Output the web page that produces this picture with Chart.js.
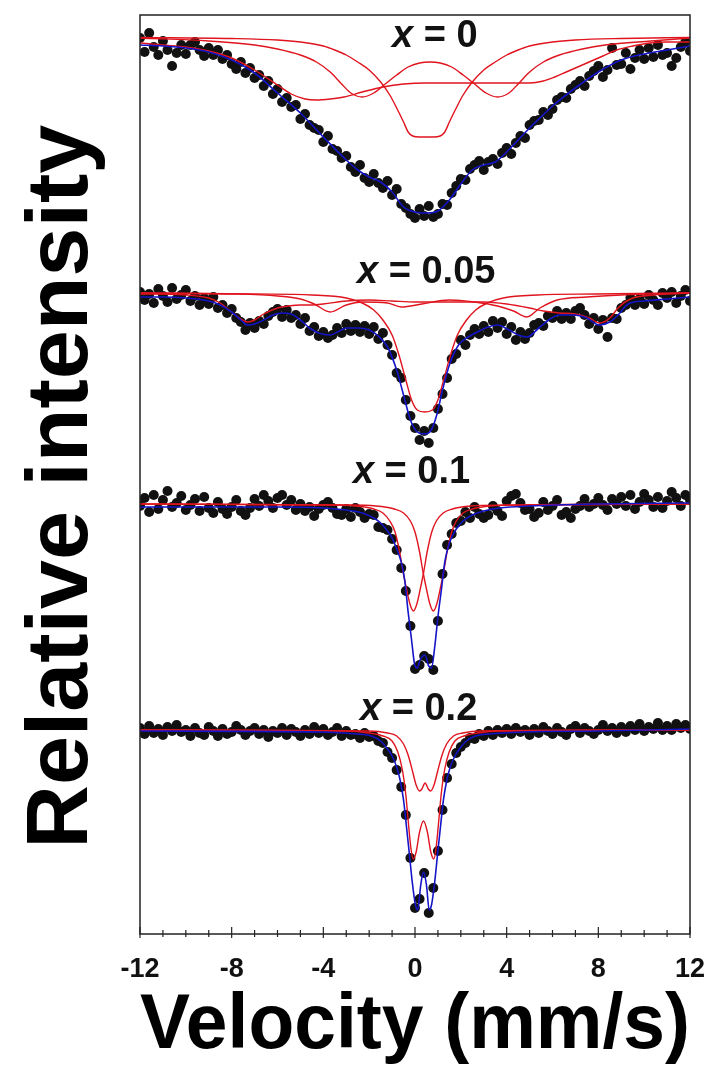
<!DOCTYPE html>
<html>
<head>
<meta charset="utf-8">
<script src="https://cdn.jsdelivr.net/npm/chart.js@4.4.1/dist/chart.umd.min.js"></script>
<style>
  html, body { margin: 0; padding: 0; background: #fff; }
  .wrap { position: relative; width: 709px; height: 1077px; }
</style>
</head>
<body>
<div class="wrap"><canvas id="spectra"></canvas></div>
<script>
// Mössbauer spectra, stacked by composition (relative intensity in arbitrary units)

const velocity = [
  -12, -11.8, -11.6, -11.4, -11.2, -11, -10.8, -10.6, -10.4, -10.2,
  -10, -9.8, -9.6, -9.4, -9.2, -9, -8.8, -8.6, -8.4, -8.2,
  -8, -7.8, -7.6, -7.4, -7.2, -7, -6.8, -6.6, -6.4, -6.2,
  -6, -5.8, -5.6, -5.4, -5.2, -5, -4.8, -4.6, -4.4, -4.2,
  -4, -3.8, -3.6, -3.4, -3.2, -3, -2.8, -2.6, -2.4, -2.2,
  -2, -1.8, -1.6, -1.4, -1.2, -1, -0.8, -0.6, -0.4, -0.2,
  0, 0.2, 0.4, 0.6, 0.8, 1, 1.2, 1.4, 1.6, 1.8,
  2, 2.2, 2.4, 2.6, 2.8, 3, 3.2, 3.4, 3.6, 3.8,
  4, 4.2, 4.4, 4.6, 4.8, 5, 5.2, 5.4, 5.6, 5.8,
  6, 6.2, 6.4, 6.6, 6.8, 7, 7.2, 7.4, 7.6, 7.8,
  8, 8.2, 8.4, 8.6, 8.8, 9, 9.2, 9.4, 9.6, 9.8,
  10, 10.2, 10.4, 10.6, 10.8, 11, 11.2, 11.4, 11.6, 11.8,
  12
]

const compositions = ['0', '0.05', '0.1', '0.2']

// measured points, one value per velocity channel
const counts0 = [
  89.6, 88.2, 90.1, 88.7, 87.9, 89.3, 88.4, 86.8, 88.1, 88.9,
  88.0, 88.9, 89.2, 88.4, 87.8, 88.6, 87.9, 88.4, 87.5, 87.9,
  87.0, 86.5, 87.2, 86.1, 86.6, 85.6, 85.9, 84.8, 85.3, 84.0,
  84.5, 83.2, 83.6, 82.7, 82.9, 81.5, 82.0, 80.9, 80.6, 80.4,
  79.2, 79.8, 78.5, 78.3, 77.6, 77.8, 76.7, 76.2, 76.9, 75.6,
  75.2, 76.0, 75.1, 74.6, 75.3, 73.9, 74.5, 73.0, 72.6, 72.0,
  71.6, 72.5, 71.8, 72.8, 71.7, 72.0, 73.0, 72.9, 74.1, 74.8,
  75.5, 75.4, 76.5, 76.9, 77.3, 76.4, 77.2, 77.5, 77.0, 78.1,
  78.6, 78.0, 79.1, 79.8, 79.6, 80.9, 81.3, 81.4, 82.2, 81.9,
  82.5, 83.4, 83.7, 83.6, 84.5, 84.9, 85.3, 84.8, 85.8, 86.3,
  86.8, 85.7, 86.4, 88.6, 86.9, 87.0, 88.1, 86.5, 87.6, 88.4,
  87.5, 88.6, 87.7, 88.9, 87.9, 88.1, 86.8, 87.6, 88.7, 89.2,
  88.3
]
const counts005 = [
  64.2, 63.4, 64.0, 63.1, 64.5, 63.8, 63.2, 64.6, 63.5, 63.9,
  64.4, 63.3, 63.8, 62.9, 63.6, 63.0, 63.7, 62.6, 62.9, 62.1,
  62.5, 61.6, 61.2, 60.4, 61.1, 60.6, 61.3, 61.0, 61.8, 62.2,
  62.5, 61.7, 62.4, 61.6, 61.9, 61.0, 61.6, 60.3, 60.7, 59.8,
  60.2, 59.6, 59.9, 60.6, 60.1, 61.0, 60.3, 60.9, 60.2, 60.8,
  60.0, 60.7, 59.5, 60.1, 58.9, 57.9, 56.1, 55.6, 53.4, 51.8,
  50.6, 49.4, 50.3, 49.1, 50.6, 52.5, 54.0, 55.6, 57.5, 58.0,
  59.4, 58.9, 59.9, 60.5, 60.0, 60.8, 60.2, 61.3, 60.6, 61.2,
  60.0, 60.7, 59.4, 60.2, 59.5, 60.1, 60.9, 61.1, 60.8, 61.8,
  61.6, 62.3, 61.5, 62.1, 61.5, 62.3, 62.6, 61.9, 61.0, 61.6,
  60.5, 61.4, 59.7, 61.6, 61.5, 62.6, 62.9, 63.6, 62.9, 63.5,
  63.0, 63.9, 63.4, 62.9, 64.1, 63.6, 64.2, 63.1, 63.8, 64.4,
  63.3
]
const counts01 = [
  42.8, 43.6, 42.2, 43.9, 42.5, 43.4, 44.3, 42.7, 43.1, 43.8,
  42.4, 42.9, 43.5, 42.3, 43.7, 42.6, 42.1, 43.2, 42.5, 42.0,
  42.7, 43.4, 42.3, 41.9, 42.6, 43.5, 42.8, 43.9, 43.3, 42.6,
  43.6, 43.9, 42.9, 43.4, 42.4, 43.0, 42.3, 42.7, 41.8, 42.5,
  42.9, 43.2, 42.6, 42.0, 41.9, 42.5, 41.7, 42.6, 42.2, 41.6,
  42.0, 41.9, 40.7, 40.6, 40.4, 39.5, 38.4, 36.6, 34.3, 30.8,
  26.5, 26.9, 27.8, 27.5, 26.4, 31.3, 36.0, 38.9, 40.0, 41.1,
  41.3, 42.2, 41.6, 42.7, 42.0, 41.6, 41.9, 42.8, 42.3, 41.8,
  43.3, 43.8, 44.0, 43.1, 42.4, 42.5, 41.7, 42.1, 43.2, 42.4,
  42.8, 43.4, 41.9, 42.2, 41.6, 42.5, 42.8, 43.5, 42.7, 43.0,
  43.6, 42.9, 42.4, 43.5, 43.0, 43.7, 42.8, 43.9, 42.5, 43.2,
  44.0, 43.4, 42.7, 43.7, 42.6, 43.3, 44.2, 43.6, 42.8, 43.9,
  43.4
]
const counts02 = [
  20.6, 20.0, 20.8, 20.1, 20.5, 19.9, 20.7, 20.3, 20.9, 20.2,
  20.4, 19.8, 20.6, 20.1, 19.9, 20.7, 20.3, 19.8, 20.5, 20.0,
  20.2, 20.8, 20.4, 19.9, 20.3, 20.6, 20.0, 20.4, 19.7, 20.3,
  20.1, 20.6, 19.9, 20.5, 20.2, 19.8, 20.4, 20.0, 20.7, 20.1,
  20.5, 19.9, 20.2, 20.6, 19.8, 20.3, 19.9, 20.0, 19.6, 20.1,
  19.7, 19.8, 19.3, 19.1, 18.2, 17.6, 16.4, 14.7, 11.9, 7.6,
  2.6, 3.5, 6.1, 2.1, 4.6, 8.3, 12.4, 15.6, 17.0, 18.1,
  18.7, 19.1, 19.6, 19.5, 20.0, 19.8, 20.3, 19.9, 20.4, 20.1,
  20.5, 20.0, 20.6, 20.2, 20.4, 19.9, 20.5, 20.1, 20.7, 20.3,
  20.0, 20.6, 20.2, 19.9, 20.5, 20.8, 20.1, 20.6, 20.3, 20.0,
  20.4, 20.9, 20.3, 20.6, 20.1, 20.7, 20.2, 20.8, 20.4, 21.0,
  20.3, 20.7, 20.5, 21.1, 20.4, 20.8, 20.4, 21.0, 20.6, 20.9,
  20.5
]

// fitted curves as [velocity, intensity] pairs
const fit0Total = [
  [-12, 88.9], [-11, 88.8], [-10, 88.6], [-9, 88.2], [-8, 87.4], [-7, 86.1], [-6, 84.1],
  [-5, 82.1], [-4, 79.7], [-3, 77.4], [-2.5, 76.4], [-2, 75.7], [-1.5, 75.2], [-1, 74.2],
  [-0.5, 72.7], [0, 72.2], [0.5, 72.1], [1, 72.3], [1.5, 73.4], [2, 75.0], [2.5, 76.4],
  [3, 76.9], [3.5, 77.2], [4, 78.2], [4.5, 79.4], [5, 80.6], [5.5, 81.7], [6, 82.8],
  [7, 84.6], [8, 86.2], [9, 87.4], [10, 88.0], [11, 88.4], [12, 88.8]
]
const fit0Center = [
  [-12, 89.65], [-8, 89.55], [-6, 89.4], [-5, 89.2], [-4, 88.8], [-3.5, 88.4], [-3, 87.9],
  [-2.5, 87.2], [-2, 86.4], [-1.5, 85.2], [-1.1, 83.9], [-0.8, 82.6], [-0.5, 81.2],
  [-0.3, 80.2], [-0.1, 79.8], [0.2, 79.7], [0.5, 79.7], [0.8, 79.7], [1.1, 79.8], [1.3, 80.2],
  [1.5, 81.2], [1.8, 82.6], [2.1, 83.9], [2.5, 85.2], [3, 86.4], [3.5, 87.2], [4, 87.9],
  [4.5, 88.4], [5, 88.8], [6, 89.2], [7, 89.4], [9, 89.55], [12, 89.65]
]
const fit0Doublet = [
  [-12, 89.6], [-9, 89.3], [-7, 88.9], [-6, 88.5], [-5, 87.9], [-4.3, 87.2], [-3.7, 86.2],
  [-3.2, 85.0], [-2.8, 84.1], [-2.3, 83.7], [-1.8, 84.1], [-1.3, 85.0], [-0.8, 85.9],
  [-0.3, 86.7], [0.2, 87.1], [0.65, 87.2], [1.1, 87.1], [1.6, 86.7], [2.1, 85.9], [2.6, 85.0],
  [3.1, 84.1], [3.6, 83.7], [4.1, 84.1], [4.5, 85.0], [5.0, 86.2], [5.6, 87.2], [6.3, 87.9],
  [7.3, 88.5], [8.3, 88.9], [10.3, 89.3], [12, 89.6]
]
const fit0Broad = [
  [-12, 89.1], [-11, 88.9], [-10, 88.7], [-9, 88.3], [-8, 87.6], [-7, 86.4], [-6, 84.9],
  [-5.4, 84.0], [-4.8, 83.5], [-4.3, 83.4], [-3.7, 83.5], [-3.1, 83.7], [-2.3, 84.2],
  [-1.4, 84.7], [-0.5, 85.0], [0.5, 85.1], [2, 85.1], [4, 85.1], [5, 85.1], [5.6, 85.3],
  [6.1, 85.7], [6.6, 86.2], [7.5, 87.1], [8.2, 87.8], [8.8, 88.4], [9.5, 88.8],
  [10.25, 89.1], [11, 89.2], [12, 89.2]
]

const fit005Total = [
  [-12, 63.7], [-11, 63.7], [-10, 63.6], [-9, 63.3], [-8.5, 62.9], [-8, 62.2], [-7.6, 61.4],
  [-7.3, 60.9], [-7.0, 61.0], [-6.6, 61.4], [-6.2, 61.9], [-5.8, 62.1], [-5.4, 62.0],
  [-5.0, 61.4], [-4.6, 60.6], [-4.2, 60.1], [-3.7, 59.9], [-3.3, 60.3], [-3.0, 60.6],
  [-2.5, 60.6], [-2.0, 60.4], [-1.6, 59.8], [-1.2, 58.7], [-0.8, 56.4], [-0.5, 53.9],
  [-0.2, 51.4], [0.1, 50.2], [0.4, 50.0], [0.65, 50.2], [0.95, 51.9], [1.2, 54.4],
  [1.5, 56.9], [1.9, 58.9], [2.4, 59.8], [2.8, 60.3], [3.2, 60.7], [3.6, 60.9], [4.1, 60.4],
  [4.5, 59.9], [4.9, 59.7], [5.4, 60.6], [5.9, 61.5], [6.3, 61.9], [6.9, 61.9], [7.5, 61.6],
  [8.05, 60.9], [8.5, 61.2], [8.9, 62.0], [9.3, 63.0], [10, 63.3], [11, 63.5], [12, 63.7]
]
const fit005Singlet = [
  [-12, 64.1], [-7, 64.0], [-4.5, 63.9], [-3, 63.6], [-2.3, 63.1], [-1.8, 62.4], [-1.4, 61.4],
  [-1.0, 59.9], [-0.7, 57.9], [-0.4, 55.4], [-0.15, 53.4], [0.1, 52.4], [0.43, 52.2],
  [0.76, 52.4], [1.0, 53.4], [1.25, 55.4], [1.55, 57.9], [1.85, 59.9], [2.25, 61.4],
  [2.65, 62.4], [3.15, 63.1], [3.85, 63.6], [5.35, 63.9], [7.85, 64.0], [12, 64.1]
]
const fit005SextetA = [
  [-12, 64.0], [-10, 63.9], [-9, 63.6], [-8.5, 63.1], [-8.0, 62.2], [-7.6, 61.5], [-7.3, 61.2],
  [-7.0, 61.4], [-6.6, 62.0], [-6.0, 62.6], [-5.5, 62.8], [-5.0, 62.9], [-4.5, 62.9],
  [-4.0, 63.0], [-3.0, 63.3], [-2.0, 63.4], [-1.0, 63.3], [0.0, 63.2], [1.0, 63.2], [2.0, 63.2],
  [3.0, 63.2], [4.0, 63.0], [5.0, 62.6], [5.6, 62.3], [6.3, 62.1], [7.0, 62.0], [7.6, 61.6],
  [8.07, 61.1], [8.5, 61.6], [8.9, 62.7], [9.4, 63.5], [10.4, 63.9], [12, 64.1]
]
const fit005SextetB = [
  [-12, 64.1], [-8, 64.0], [-6, 63.8], [-5, 63.5], [-4.4, 63.0], [-3.7, 62.2], [-3.0, 62.9],
  [-2.3, 63.2], [-1.2, 63.1], [-0.6, 62.7], [0.3, 63.0], [1.5, 63.4], [2.6, 63.2], [3.6, 62.8],
  [4.3, 62.3], [4.88, 61.7], [5.45, 62.6], [6.2, 63.4], [7.5, 63.7], [9, 63.9], [12, 64.1]
]

const fit01Total = [
  [-12, 42.7], [-6, 42.7], [-4, 42.6], [-3, 42.4], [-2.3, 42.1], [-1.8, 41.6], [-1.5, 41.1],
  [-1.2, 40.3], [-1.0, 39.6], [-0.8, 38.5], [-0.6, 37.2], [-0.45, 35.4], [-0.3, 32.2],
  [-0.15, 29.4], [0.0, 26.8], [0.1, 26.6], [0.22, 27.4], [0.43, 27.9], [0.6, 26.8],
  [0.72, 26.6], [0.87, 28.9], [1.0, 31.7], [1.15, 34.4], [1.3, 37.2], [1.5, 39.1],
  [1.8, 40.5], [2.1, 41.3], [2.5, 41.9], [3.0, 42.3], [3.7, 42.6], [5, 42.8], [8, 43.0],
  [12, 43.1]
]
const fit01LineA = [
  [-12, 43.0], [-4, 42.9], [-2.6, 42.8], [-1.8, 42.5], [-1.4, 42.1], [-1.1, 41.3],
  [-0.87, 40.2], [-0.67, 38.2], [-0.52, 36.2], [-0.37, 34.5], [-0.22, 33.0], [-0.07, 32.3],
  [0.08, 33.0], [0.23, 34.5], [0.38, 36.2], [0.53, 38.2], [0.73, 40.2], [0.93, 41.3],
  [1.23, 42.1], [1.63, 42.5], [2.43, 42.8], [3.93, 42.9], [12, 43.0]
]
const fit01LineB = [
  [-12, 43.0], [-3.2, 42.9], [-1.7, 42.8], [-0.9, 42.5], [-0.5, 42.1], [-0.2, 41.3],
  [0.0, 40.2], [0.2, 38.2], [0.35, 36.2], [0.5, 34.5], [0.65, 33.0], [0.8, 32.3], [0.95, 33.0],
  [1.1, 34.5], [1.25, 36.2], [1.4, 38.2], [1.6, 40.2], [1.8, 41.3], [2.1, 42.1], [2.5, 42.5],
  [3.3, 42.8], [4.8, 42.9], [12, 43.0]
]

const fit02Total = [
  [-12, 20.3], [-4, 20.2], [-2.5, 20.0], [-1.9, 19.8], [-1.5, 19.3], [-1.2, 18.5],
  [-1.0, 17.8], [-0.8, 16.7], [-0.65, 15.4], [-0.5, 13.4], [-0.38, 10.9], [-0.25, 8.1],
  [-0.12, 5.2], [0.02, 2.9], [0.12, 2.4], [0.25, 4.9], [0.37, 6.2], [0.5, 4.9], [0.62, 2.4],
  [0.72, 2.9], [0.86, 5.2], [0.99, 8.1], [1.12, 10.9], [1.24, 13.4], [1.39, 15.4],
  [1.54, 16.7], [1.74, 17.8], [1.94, 18.5], [2.24, 19.3], [2.64, 19.8], [3.24, 20.0],
  [4.74, 20.2], [8, 20.3], [12, 20.5]
]
const fit02DoubletA = [
  [-12, 20.4], [-2, 20.3], [-1.2, 20.1], [-0.8, 19.8], [-0.5, 19.0], [-0.3, 17.9],
  [-0.1, 16.2], [0.05, 14.9], [0.2, 14.3], [0.3, 14.5], [0.44, 15.1], [0.58, 14.5],
  [0.68, 14.3], [0.83, 14.9], [0.98, 16.2], [1.18, 17.9], [1.38, 19.0], [1.68, 19.8],
  [2.08, 20.1], [2.9, 20.3], [12, 20.4]
]
const fit02DoubletB = [
  [-12, 20.4], [-3, 20.3], [-2, 20.1], [-1.4, 19.8], [-1.0, 19.3], [-0.75, 18.2],
  [-0.55, 16.4], [-0.4, 13.9], [-0.28, 10.9], [-0.18, 8.6], [-0.08, 7.5], [0.05, 8.2],
  [0.2, 10.2], [0.37, 11.3], [0.54, 10.2], [0.69, 8.2], [0.82, 7.5], [0.92, 8.6], [1.02, 10.9],
  [1.14, 13.9], [1.29, 16.4], [1.49, 18.2], [1.74, 19.3], [2.14, 19.8], [2.74, 20.1],
  [3.74, 20.3], [12, 20.4]
]

// where each composition label starts: [velocity, intensity]
const labelAnchors = [[-1.0, 89.7], [-2.53, 66.1], [-2.71, 46.1], [-2.4, 22.4]]

const FONT = '"Liberation Sans", Arial, Helvetica, sans-serif'
const RED = '#e0141e'
const BLUE = '#1414c8'

function dots(values) {
  return {
    type: 'scatter',
    data: velocity.map((v, i) => ({ x: v, y: values[i] })),
    pointRadius: 5,
    pointBackgroundColor: '#111',
    pointBorderWidth: 0,
    showLine: false,
    order: 3,
  }
}

function curve(pairs, color, width, order) {
  return {
    type: 'line',
    data: pairs.map(([x, y]) => ({ x, y })),
    borderColor: color,
    borderWidth: width,
    pointRadius: 0,
    fill: false,
    cubicInterpolationMode: 'monotone',
    order,
  }
}

const decorations = {
  id: 'decorations',
  afterDatasetsDraw(chart) {
    const { ctx, chartArea: a, scales: { x, y } } = chart
    ctx.save()
    ctx.strokeStyle = '#222'
    ctx.lineWidth = 1.5
    ctx.strokeRect(a.left, a.top, a.right - a.left, a.bottom - a.top)

    // tick marks crossing the velocity axis
    ctx.lineWidth = 1.2
    x.ticks.forEach(t => {
      const px = x.getPixelForValue(t.value)
      const major = t.value % 4 === 0
      ctx.beginPath()
      ctx.moveTo(px, a.bottom - (major ? 7 : 4))
      ctx.lineTo(px, a.bottom + (major ? 4 : 3))
      ctx.stroke()
    })

    // composition labels
    ctx.fillStyle = '#111'
    ctx.textBaseline = 'middle'
    compositions.forEach((c, i) => {
      const [v, val] = labelAnchors[i]
      const px = x.getPixelForValue(v)
      const py = y.getPixelForValue(val)
      ctx.font = `italic bold 38px ${FONT}`
      ctx.fillText('x', px, py)
      const w = ctx.measureText('x').width
      ctx.font = `bold 38px ${FONT}`
      ctx.fillText(` = ${c}`, px + w, py)
    })
    ctx.restore()
  },
}

new Chart(document.getElementById('spectra'), {
  type: 'scatter',
  data: {
    datasets: [
      dots(counts0), dots(counts005), dots(counts01), dots(counts02),
      curve(fit0Center, RED, 1.4, 2), curve(fit0Doublet, RED, 1.4, 2), curve(fit0Broad, RED, 1.4, 2),
      curve(fit005Singlet, RED, 1.4, 2), curve(fit005SextetA, RED, 1.4, 2), curve(fit005SextetB, RED, 1.4, 2),
      curve(fit01LineA, RED, 1.4, 2), curve(fit01LineB, RED, 1.4, 2),
      curve(fit02DoubletA, RED, 1.4, 2), curve(fit02DoubletB, RED, 1.4, 2),
      curve(fit0Total, BLUE, 1.6, 1), curve(fit005Total, BLUE, 1.6, 1),
      curve(fit01Total, BLUE, 1.6, 1), curve(fit02Total, BLUE, 1.6, 1),
    ],
  },
  options: {
    responsive: true,
    maintainAspectRatio: false,
    animation: false,
    layout: { padding: { top: 15, right: 19, left: 0, bottom: 0 } },
    plugins: { legend: { display: false }, tooltip: { enabled: false } },
    scales: {
      x: {
        type: 'linear',
        min: -12,
        max: 12,
        // keep the plot frame fixed; the end labels may hang into the margins
        afterFit: s => { s.height = 143; s.paddingLeft = 0; s.paddingRight = 0 },
        grid: { display: false, drawTicks: false },
        border: { display: false },
        ticks: {
          stepSize: 1,
          autoSkip: false,
          maxRotation: 0,
          padding: 19,
          color: '#111',
          font: { family: FONT, size: 27, weight: 'bold' },
          callback: v => (v % 4 === 0 ? String(v) : ''),
        },
        title: {
          display: true,
          text: 'Velocity (mm/s)',
          color: '#000',
          font: { family: FONT, size: 77, weight: 'bold' },
          padding: { top: 0, bottom: 4 },
        },
      },
      y: {
        min: 0,
        max: 91.9,
        afterFit: s => { s.width = 140 },
        grid: { display: false, drawTicks: false },
        border: { display: false },
        ticks: { display: false },
        title: {
          display: true,
          // trailing space nudges the rotated title a little below the frame's middle
          text: 'Relative intensity ',
          color: '#000',
          font: { family: FONT, size: 88, weight: 'bold' },
          padding: { top: 10, bottom: 0 },
        },
      },
    },
  },
  plugins: [decorations],
})
</script>
</body>
</html>
